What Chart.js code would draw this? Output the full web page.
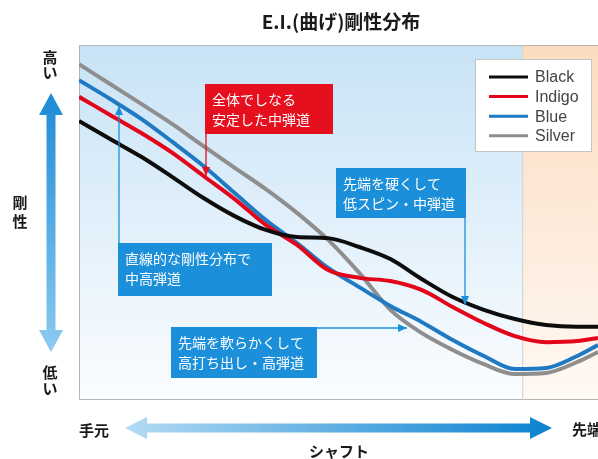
<!DOCTYPE html>
<html>
<head>
<meta charset="utf-8">
<script src="https://cdn.jsdelivr.net/npm/chart.js@4.4.1/dist/chart.umd.min.js"></script>
<style>
  html, body { margin: 0; padding: 0; background: #ffffff; }
  #wrap { width: 598px; height: 459px; position: relative; }
</style>
</head>
<body>
<div id="wrap"><canvas id="ei-chart"></canvas></div>
<script>
// shaft position (0 = 手元, 100 = 先端 side of the frame) / relative stiffness
const positions = [0, 6, 12, 18, 24, 30, 36, 42, 48, 54, 60, 66, 72, 78, 84, 90, 96, 100];
const blackValues = [78.6, 73.5, 68.5, 62.8, 56.9, 51.8, 47.9, 45.9, 45.6, 43.1, 39.7, 34.1, 29.0, 25.4, 22.8, 21.1, 20.6, 20.6];
const indigoValues = [85.4, 80.3, 75.2, 69.6, 63.1, 56.6, 49.3, 43.7, 36.6, 34.4, 33.5, 31.0, 26.2, 21.7, 18.0, 16.3, 16.6, 17.5];
const blueValues = [90.1, 84.8, 79.2, 72.7, 65.9, 58.3, 50.7, 44.2, 37.2, 31.8, 26.5, 22.0, 16.9, 12.4, 8.7, 9.0, 12.4, 15.5];
const silverValues = [94.6, 89.0, 83.4, 77.7, 71.5, 65.4, 59.4, 52.7, 45.1, 35.8, 25.4, 18.9, 14.1, 10.1, 7.3, 7.6, 10.7, 13.5];
const seriesLabels = ["Black", "Indigo", "Blue", "Silver"];
const tipZoneStart = 85.4;

const titleText = "E.I.(曲げ)剛性分布";
const yHighLabel = "高い";
const yLowLabel = "低い";
const yAxisLabel = "剛性";
const xStartLabel = "手元";
const xEndLabel = "先端";
const xAxisLabel = "シャフト";

const calloutRed = ["全体でしなる", "安定した中弾道"];
const calloutStiffTip = ["先端を硬くして", "低スピン・中弾道"];
const calloutLinear = ["直線的な剛性分布で", "中高弾道"];
const calloutSoftTip = ["先端を軟らかくして", "高打ち出し・高弾道"];

const theme = {
  black: "#0d0d0d",
  indigo: "#e3061b",
  blue: "#1f79c3",
  silver: "#8e8e8e",
  boxBlue: "#1b8fd9",
  boxRed: "#e50f1e",
  border: "#b4b4b4",
};

const jpFont = '"Noto Sans CJK JP", "Noto Sans", sans-serif';

const triangle = (ctx, x, y, dir, len, half) => {
  ctx.beginPath();
  ctx.moveTo(x, y);
  if (dir === "down") { ctx.lineTo(x - half, y - len); ctx.lineTo(x + half, y - len); }
  if (dir === "up") { ctx.lineTo(x - half, y + len); ctx.lineTo(x + half, y + len); }
  if (dir === "right") { ctx.lineTo(x - len, y - half); ctx.lineTo(x - len, y + half); }
  ctx.closePath();
  ctx.fill();
};

const drawCallout = (ctx, box, lines, color, pointer) => {
  ctx.save();
  ctx.fillStyle = color;
  ctx.fillRect(box.x, box.y, box.w, box.h);
  ctx.strokeStyle = color;
  ctx.lineWidth = 1.3;
  ctx.beginPath();
  ctx.moveTo(pointer.from[0], pointer.from[1]);
  ctx.lineTo(pointer.to[0], pointer.to[1]);
  ctx.stroke();
  triangle(ctx, pointer.to[0], pointer.to[1], pointer.dir, 9, 4);
  ctx.fillStyle = "#ffffff";
  ctx.font = `14px ${jpFont}`;
  ctx.textBaseline = "middle";
  ctx.textAlign = "left";
  lines.forEach((line, i) => {
    ctx.fillText(line, box.x + 7, box.y + 16 + i * 20);
  });
  ctx.restore();
};

const drawVerticalText = (ctx, text, x, y, step) => {
  [...text].forEach((ch, i) => ctx.fillText(ch, x, y + i * step));
};

const backgroundPlugin = {
  id: "eiBackground",
  beforeDatasetsDraw(chart) {
    const { ctx, chartArea } = chart;
    const { left, top, right, bottom } = chartArea;
    const tipX = chart.scales.x.getPixelForValue(tipZoneStart);
    ctx.save();
    const blue = ctx.createLinearGradient(0, top, 0, bottom);
    blue.addColorStop(0, "#c8e3f6");
    blue.addColorStop(1, "#fbfdff");
    ctx.fillStyle = blue;
    ctx.fillRect(left, top, tipX - left, bottom - top);
    const beige = ctx.createLinearGradient(0, top, 0, bottom);
    beige.addColorStop(0, "#fcdcc0");
    beige.addColorStop(1, "#fff9f4");
    ctx.fillStyle = beige;
    ctx.fillRect(tipX, top, right - tipX, bottom - top);

    ctx.strokeStyle = theme.border;
    ctx.lineWidth = 1;
    ctx.beginPath();
    ctx.moveTo(right, top + 0.5);
    ctx.lineTo(left + 0.5, top + 0.5);
    ctx.lineTo(left + 0.5, bottom - 0.5);
    ctx.lineTo(right, bottom - 0.5);
    ctx.stroke();
    ctx.strokeStyle = "#cfcfcf";
    ctx.beginPath();
    ctx.moveTo(tipX + 0.5, top);
    ctx.lineTo(tipX + 0.5, bottom);
    ctx.stroke();
    ctx.restore();
  },
};

const decorPlugin = {
  id: "eiDecor",
  afterDatasetsDraw(chart) {
    const { ctx } = chart;
    ctx.save();

    drawCallout(ctx, { x: 205, y: 84, w: 128, h: 50 }, calloutRed, theme.boxRed,
      { from: [206, 134], to: [206, 176], dir: "down" });
    drawCallout(ctx, { x: 336, y: 168, w: 130, h: 50 }, calloutStiffTip, theme.boxBlue,
      { from: [465, 218], to: [465, 305], dir: "down" });
    drawCallout(ctx, { x: 118, y: 243, w: 154, h: 53 }, calloutLinear, theme.boxBlue,
      { from: [119, 243], to: [119, 106], dir: "up" });
    drawCallout(ctx, { x: 171, y: 327, w: 146, h: 51 }, calloutSoftTip, theme.boxBlue,
      { from: [317, 328], to: [407, 328], dir: "right" });

    // legend
    ctx.fillStyle = "#ffffff";
    ctx.fillRect(475, 59, 117, 93);
    ctx.strokeStyle = "#c4c4c4";
    ctx.lineWidth = 1;
    ctx.strokeRect(475.5, 59.5, 116, 92);
    chart.data.datasets.forEach((ds, i) => {
      const y = 77 + i * 19.6;
      ctx.strokeStyle = ds.borderColor;
      ctx.lineWidth = 3;
      ctx.beginPath();
      ctx.moveTo(489, y);
      ctx.lineTo(528, y);
      ctx.stroke();
      ctx.fillStyle = "#444444";
      ctx.font = '16px "Liberation Sans", Arial, sans-serif';
      ctx.textBaseline = "middle";
      ctx.textAlign = "left";
      ctx.fillText(ds.label, 535, y + 1);
    });

    // title and axis words
    ctx.fillStyle = "#1a1a1a";
    ctx.textAlign = "center";
    ctx.textBaseline = "middle";
    ctx.font = `bold 19px ${jpFont}`;
    ctx.fillText(titleText, 341, 22);
    ctx.font = `bold 15px ${jpFont}`;
    drawVerticalText(ctx, yHighLabel, 50, 57, 15);
    drawVerticalText(ctx, yLowLabel, 50, 372, 16);
    drawVerticalText(ctx, yAxisLabel, 20, 202, 19);
    ctx.textAlign = "left";
    ctx.fillText(xStartLabel, 79, 430);
    ctx.fillText(xEndLabel, 572, 429);
    ctx.textAlign = "center";
    ctx.fillText(xAxisLabel, 339, 451);

    // vertical double arrow
    const vGrad = ctx.createLinearGradient(0, 93, 0, 352);
    vGrad.addColorStop(0, "#1d8bd7");
    vGrad.addColorStop(1, "#8ccbf0");
    ctx.fillStyle = vGrad;
    const cx = 51, shaftV = 4.5, headV = 12, lenV = 22;
    ctx.beginPath();
    ctx.moveTo(cx, 93);
    ctx.lineTo(cx + headV, 93 + lenV);
    ctx.lineTo(cx + shaftV, 93 + lenV);
    ctx.lineTo(cx + shaftV, 352 - lenV);
    ctx.lineTo(cx + headV, 352 - lenV);
    ctx.lineTo(cx, 352);
    ctx.lineTo(cx - headV, 352 - lenV);
    ctx.lineTo(cx - shaftV, 352 - lenV);
    ctx.lineTo(cx - shaftV, 93 + lenV);
    ctx.lineTo(cx - headV, 93 + lenV);
    ctx.closePath();
    ctx.fill();

    // horizontal double arrow
    const hGrad = ctx.createLinearGradient(125, 0, 552, 0);
    hGrad.addColorStop(0, "#b3dbf4");
    hGrad.addColorStop(1, "#0b82d1");
    ctx.fillStyle = hGrad;
    const cy = 428, shaftH = 4.5, headH = 11, lenH = 22;
    ctx.beginPath();
    ctx.moveTo(125, cy);
    ctx.lineTo(125 + lenH, cy - headH);
    ctx.lineTo(125 + lenH, cy - shaftH);
    ctx.lineTo(552 - lenH, cy - shaftH);
    ctx.lineTo(552 - lenH, cy - headH);
    ctx.lineTo(552, cy);
    ctx.lineTo(552 - lenH, cy + headH);
    ctx.lineTo(552 - lenH, cy + shaftH);
    ctx.lineTo(125 + lenH, cy + shaftH);
    ctx.lineTo(125 + lenH, cy + headH);
    ctx.closePath();
    ctx.fill();

    ctx.restore();
  },
};

const toPoints = (values) => values.map((v, i) => ({ x: positions[i], y: v }));

const lineSet = (label, values, color) => ({
  label,
  data: toPoints(values),
  borderColor: color,
  backgroundColor: color,
  borderWidth: 4,
  pointRadius: 0,
  cubicInterpolationMode: "monotone",
  fill: false,
});

new Chart(document.getElementById("ei-chart"), {
  type: "line",
  data: {
    datasets: [
      lineSet(seriesLabels[0], blackValues, theme.black),
      lineSet(seriesLabels[1], indigoValues, theme.indigo),
      lineSet(seriesLabels[2], blueValues, theme.blue),
      lineSet(seriesLabels[3], silverValues, theme.silver),
    ],
  },
  options: {
    responsive: true,
    maintainAspectRatio: false,
    animation: false,
    layout: { padding: { left: 79, top: 45, right: 0, bottom: 59 } },
    scales: {
      x: { type: "linear", min: 0, max: 100, display: false },
      y: { min: 0, max: 100, display: false },
    },
    plugins: {
      legend: { display: false },
      tooltip: { enabled: false },
    },
  },
  plugins: [backgroundPlugin, decorPlugin],
});
</script>
</body>
</html>
